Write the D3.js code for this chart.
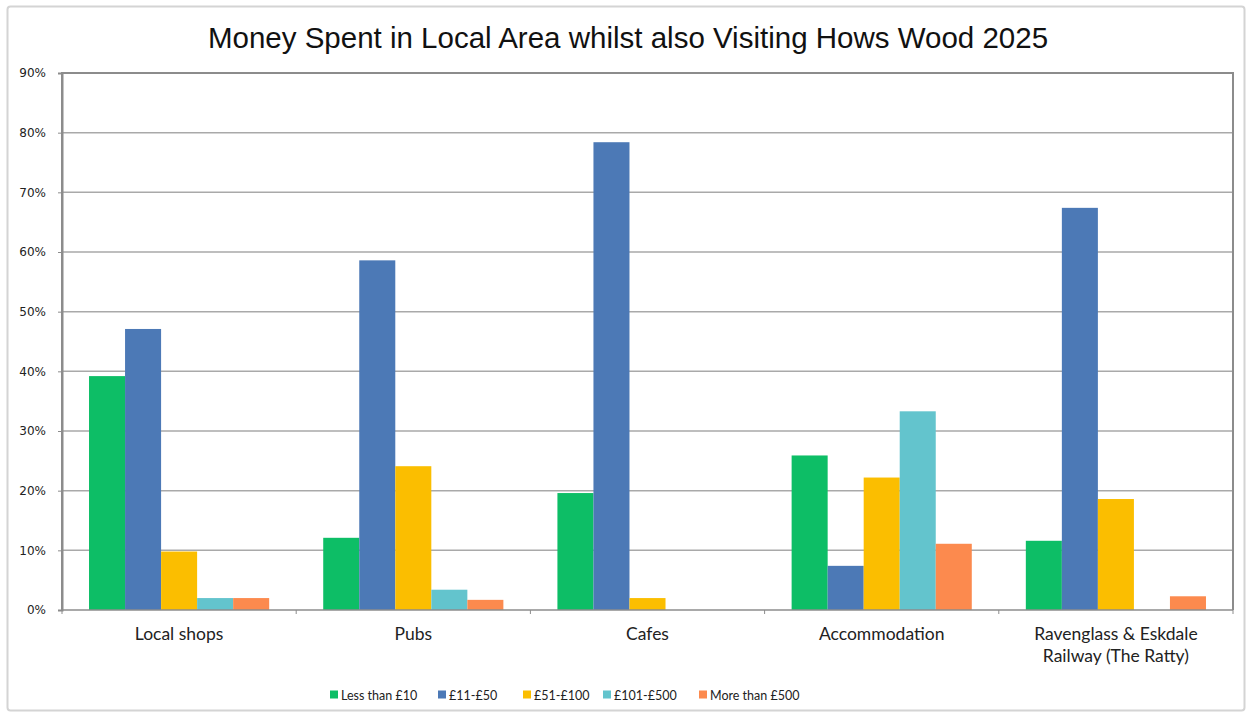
<!DOCTYPE html>
<html>
<head>
<meta charset="utf-8">
<script src="https://cdn.jsdelivr.net/npm/d3@7"></script>
<style>
  html, body { margin: 0; padding: 0; background: #fff; }
  svg { display: block; }
</style>
</head>
<body>
<svg id="chart" width="1249" height="718"></svg>
<script>
// Survey categories (x axis); long names are split over two lines
const categories = ["Local shops", "Pubs", "Cafes", "Accommodation", "Ravenglass & Eskdale Railway (The Ratty)"];
const categoryLines = [["Local shops"], ["Pubs"], ["Cafes"], ["Accommodation"], ["Ravenglass & Eskdale", "Railway (The Ratty)"]];

// Spend bands (series)
const seriesNames = ["Less than £10", "£11-£50", "£51-£100", "£101-£500", "More than £500"];
const seriesColors = ["#0DBE66", "#4C79B6", "#FBBE00", "#63C4CD", "#FC8A4E"];

// Share of respondents (%) per category, one array per spend band
const lessThan10 = [39.2, 12.1, 19.6, 25.9, 11.6];
const from11to50 = [47.1, 58.6, 78.4, 7.4, 67.4];
const from51to100 = [9.8, 24.1, 2.0, 22.2, 18.6];
const from101to500 = [2.0, 3.4, 0, 33.3, 0];
const moreThan500 = [2.0, 1.7, 0, 11.1, 2.3];
const seriesValues = [lessThan10, from11to50, from51to100, from101to500, moreThan500];

const yTicks = [0, 10, 20, 30, 40, 50, 60, 70, 80, 90];
const title = "Money Spent in Local Area whilst also Visiting Hows Wood 2025";

const svg = d3.select("#chart");
const plot = { left: 62, top: 73, right: 1233, bottom: 610 };

// Outer chart frame
svg.append("rect")
  .attr("x", 7.5).attr("y", 6.5)
  .attr("width", 1237).attr("height", 704)
  .attr("rx", 3)
  .attr("fill", "#fff")
  .attr("stroke", "#D4D4D4")
  .attr("stroke-width", 2);

// Title
svg.append("text")
  .attr("x", 628).attr("y", 48)
  .attr("text-anchor", "middle")
  .attr("font-family", "'Liberation Sans', Arial, sans-serif")
  .attr("font-size", 29.5)
  .attr("fill", "#111")
  .text(title);

const x = d3.scaleBand()
  .domain(categories)
  .range([plot.left, plot.right])
  .padding(0);

const gapRatio = 1.5; // gap between groups relative to one bar width
const barW = x.bandwidth() / (seriesNames.length + gapRatio);
const xInner = d3.scaleBand()
  .domain(seriesNames)
  .range([barW * gapRatio / 2, x.bandwidth() - barW * gapRatio / 2])
  .padding(0);

const y = d3.scaleLinear()
  .domain([0, 90])
  .range([plot.bottom, plot.top]);

// Horizontal gridlines
svg.append("g")
  .selectAll("line")
  .data(yTicks.filter(t => t > 0 && t < 90))
  .join("line")
  .attr("x1", plot.left).attr("x2", plot.right)
  .attr("y1", d => y(d)).attr("y2", d => y(d))
  .attr("stroke", "#A9A9A9")
  .attr("stroke-width", 1.5);

// Bars
const rows = [];
categories.forEach((c, ci) => {
  seriesNames.forEach((s, si) => {
    rows.push({ cat: c, series: s, value: seriesValues[si][ci], color: seriesColors[si] });
  });
});

svg.append("g")
  .selectAll("rect")
  .data(rows.filter(d => d.value > 0))
  .join("rect")
  .attr("x", d => x(d.cat) + xInner(d.series))
  .attr("width", xInner.bandwidth())
  .attr("y", d => y(d.value))
  .attr("height", d => y(0) - y(d.value))
  .attr("fill", d => d.color);

// Plot frame (top, left, right)
svg.append("path")
  .attr("d", `M${plot.left},${plot.bottom}V${plot.top}H${plot.right}V${plot.bottom}`)
  .attr("fill", "none")
  .attr("stroke", "#8C8C8C")
  .attr("stroke-width", 2);

// Y axis
const yAxis = d3.axisLeft(y)
  .tickValues(yTicks)
  .tickFormat(d => d + "%")
  .tickSize(4)
  .tickPadding(12);

const gy = svg.append("g")
  .attr("transform", `translate(${plot.left},0)`)
  .call(yAxis);
gy.select(".domain").attr("stroke", "#8C8C8C").attr("stroke-width", 2);
gy.selectAll(".tick line").attr("stroke", "#8C8C8C");
gy.selectAll(".tick text")
  .attr("font-family", "'DejaVu Sans', Verdana, sans-serif")
  .attr("font-size", 12)
  .attr("fill", "#222");

// X axis baseline with ticks at category boundaries
const boundaries = d3.range(categories.length + 1).map(i => plot.left + i * x.step());
svg.append("line")
  .attr("x1", plot.left).attr("x2", plot.right)
  .attr("y1", plot.bottom).attr("y2", plot.bottom)
  .attr("stroke", "#8C8C8C")
  .attr("stroke-width", 1.5);
svg.append("g")
  .selectAll("line")
  .data(boundaries)
  .join("line")
  .attr("x1", d => d).attr("x2", d => d)
  .attr("y1", plot.bottom).attr("y2", plot.bottom + 4)
  .attr("stroke", "#8C8C8C");

// Category labels
const catLabels = svg.append("g")
  .selectAll("text")
  .data(categories)
  .join("text")
  .attr("x", d => x(d) + x.bandwidth() / 2)
  .attr("y", 640)
  .attr("text-anchor", "middle")
  .attr("font-family", "Lato, 'Open Sans', sans-serif")
  .attr("font-size", 17.5)
  .attr("fill", "#222");
catLabels.each(function (d, i) {
  const t = d3.select(this);
  categoryLines[i].forEach((line, li) => {
    t.append("tspan")
      .attr("x", x(d) + x.bandwidth() / 2)
      .attr("dy", li === 0 ? 0 : 22)
      .text(line);
  });
});

// Legend
const legendX = [330, 438, 523, 603, 699];
const legend = svg.append("g")
  .selectAll("g")
  .data(seriesNames)
  .join("g")
  .attr("transform", (d, i) => `translate(${legendX[i]},695)`);
legend.append("rect")
  .attr("x", 0).attr("y", -4.5)
  .attr("width", 8).attr("height", 8)
  .attr("fill", (d, i) => seriesColors[i]);
legend.append("text")
  .attr("x", 11).attr("y", 5)
  .attr("font-family", "Lato, 'Open Sans', sans-serif")
  .attr("font-size", 12.5)
  .attr("fill", "#222")
  .text(d => d);
</script>
</body>
</html>
